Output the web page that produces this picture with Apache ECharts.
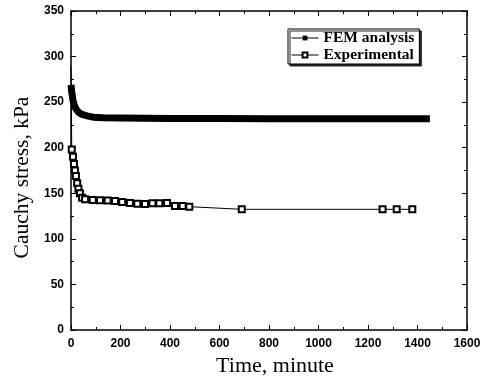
<!DOCTYPE html>
<html>
<head>
<meta charset="utf-8">
<script src="https://cdn.jsdelivr.net/npm/echarts@6/dist/echarts.min.js"></script>
<style>html,body{margin:0;padding:0;background:#fff}#c{width:488px;height:383px}</style>
</head>
<body>
<div id="c"></div>
<script>
// Data: [time (minute), stress (kPa)]
const femTime   = [0, 3, 8, 13, 20, 30, 45, 65, 90, 130, 200, 300, 400, 600, 800, 1000, 1200, 1450];
const femStress = [269, 261, 252, 247, 242.5, 239, 236.5, 235, 233.5, 232.8, 232.5, 232.3, 232, 232, 231.8, 231.8, 231.8, 231.8];

const expTime   = [0, 3, 8, 12, 16, 20, 25, 30, 36, 45, 57, 88, 117, 148, 178, 207, 238, 268, 299, 329, 357, 388, 420, 451, 478, 690, 1259, 1316, 1379];
const expStress = [290, 198, 190, 182, 175, 169, 161, 155, 150, 145, 143.5, 142.6, 142.3, 142, 141.5, 140.4, 139.3, 138.6, 138.3, 139, 139, 139.3, 136, 136, 135.3, 132.4, 132.4, 132.4, 132.4];

const xTicks = [0, 200, 400, 600, 800, 1000, 1200, 1400, 1600];
const yTicks = [0, 50, 100, 150, 200, 250, 300, 350];

const femData = femTime.map((t, i) => [t, femStress[i]]);
const expData = expTime.map((t, i) => (i === 0 ? {value: [t, expStress[i]], symbol: 'none'} : [t, expStress[i]]));

const chart = echarts.init(document.getElementById('c'), null, {renderer: 'canvas'});
const labelFont = {color: '#000', fontFamily: 'Liberation Sans, Arial', fontWeight: 'bold', fontSize: 12};
const nameFontX = {color: '#000', fontFamily: 'Liberation Serif, Times New Roman', fontSize: 22, padding: [0, 0, 0, 12]};
const nameFontY = {color: '#000', fontFamily: 'Liberation Serif, Times New Roman', fontSize: 21.5, padding: [0, 14, 0, 0]};
const axLine = {show: true, onZero: false, lineStyle: {color: '#000', width: 1.5}};
const tick = {show: true, inside: true, length: 5, lineStyle: {color: '#000', width: 1}};
const minor = {show: true, splitNumber: 2, length: 3, lineStyle: {color: '#000', width: 1}};
const plain = v => String(v);

chart.setOption({
  animation: false,
  backgroundColor: '#fff',
  grid: {left: 71, right: 21, top: 11, bottom: 53},
  legend: {
    orient: 'vertical',
    left: 288, top: 29,
    itemWidth: 27, itemHeight: 6, itemGap: 1,
    padding: [1, 5, 1, 3],
    backgroundColor: '#fff',
    borderColor: '#000', borderWidth: 1,
    shadowColor: '#222', shadowOffsetX: 2, shadowOffsetY: 2, shadowBlur: 0,
    textStyle: {color: '#000', fontFamily: 'Liberation Serif, Times New Roman', fontWeight: 'bold', fontSize: 15.5},
    data: [
      {name: 'FEM analysis', lineStyle: {width: 1, color: '#000'}, itemStyle: {color: '#000'}},
      {name: 'Experimental', lineStyle: {width: 1, color: '#000'}}
    ]
  },
  xAxis: [{
    type: 'value', min: xTicks[0], max: xTicks[xTicks.length - 1], interval: 200,
    name: 'Time, minute', nameLocation: 'middle', nameGap: 23, nameTextStyle: nameFontX,
    axisLine: axLine, axisTick: tick, minorTick: minor, splitLine: {show: false},
    axisLabel: Object.assign({margin: 8, formatter: plain}, labelFont)
  }, {
    type: 'value', position: 'top', min: xTicks[0], max: xTicks[xTicks.length - 1], interval: 200,
    axisLine: axLine, axisTick: tick, minorTick: minor, splitLine: {show: false},
    axisLabel: {show: false}
  }],
  yAxis: [{
    type: 'value', min: yTicks[0], max: yTicks[yTicks.length - 1], interval: 50,
    name: 'Cauchy stress, kPa', nameLocation: 'middle', nameGap: 38, nameTextStyle: nameFontY,
    axisLine: axLine, axisTick: tick, minorTick: minor, splitLine: {show: false},
    axisLabel: Object.assign({margin: 7, formatter: plain}, labelFont)
  }, {
    type: 'value', position: 'right', min: yTicks[0], max: yTicks[yTicks.length - 1], interval: 50,
    axisLine: axLine, axisTick: tick, minorTick: minor, splitLine: {show: false},
    axisLabel: {show: false}
  }],
  series: [{
    name: 'FEM analysis', type: 'line', data: femData,
    symbol: 'rect', symbolSize: 6, showSymbol: false,
    itemStyle: {color: '#000'},
    lineStyle: {color: '#000', width: 7, cap: 'butt', join: 'round'}
  }, {
    name: 'Experimental', type: 'line', data: expData,
    symbol: 'emptyRect', symbolSize: 6, showAllSymbol: true,
    itemStyle: {color: '#000', borderColor: '#000', borderWidth: 1},
    lineStyle: {color: '#000', width: 1}
  }]
});
</script>
</body>
</html>
